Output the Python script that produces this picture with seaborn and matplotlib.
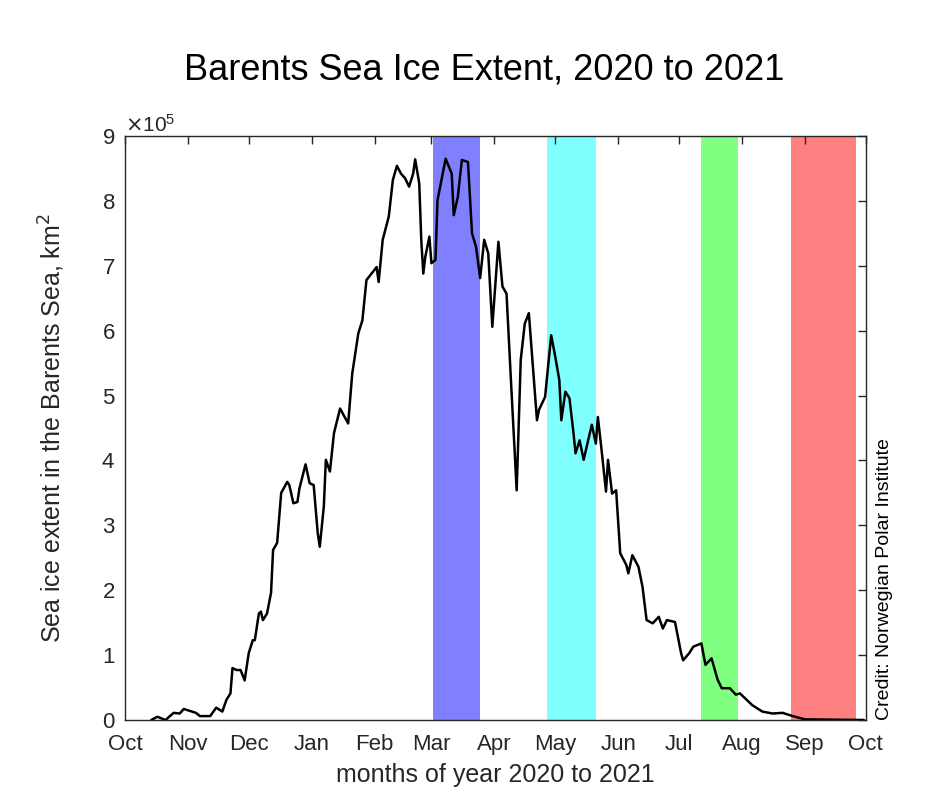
import numpy as np
import pandas as pd
import seaborn as sns
import matplotlib.pyplot as plt
import matplotlib.dates as mdates
from matplotlib.ticker import ScalarFormatter, MultipleLocator

# daily sea ice extent (units of 1e5 km^2)
dates = [
    "2020-10-14", "2020-10-17", "2020-10-21", "2020-10-25", "2020-10-28", "2020-10-30",
    "2020-11-05", "2020-11-07", "2020-11-12", "2020-11-15", "2020-11-18", "2020-11-20",
    "2020-11-22", "2020-11-23", "2020-11-25", "2020-11-27", "2020-11-29",
    "2020-12-01", "2020-12-03", "2020-12-04", "2020-12-06", "2020-12-07", "2020-12-08",
    "2020-12-10", "2020-12-12", "2020-12-13", "2020-12-15", "2020-12-17", "2020-12-20",
    "2020-12-21", "2020-12-23", "2020-12-25", "2020-12-26", "2020-12-29", "2020-12-31",
    "2021-01-02", "2021-01-04", "2021-01-05", "2021-01-07", "2021-01-08", "2021-01-10",
    "2021-01-12", "2021-01-15", "2021-01-19", "2021-01-21", "2021-01-24", "2021-01-26",
    "2021-01-28", "2021-01-30",
    "2021-02-02", "2021-02-03", "2021-02-05", "2021-02-08", "2021-02-10", "2021-02-12",
    "2021-02-14", "2021-02-16", "2021-02-18", "2021-02-20", "2021-02-21", "2021-02-23",
    "2021-02-24", "2021-02-25", "2021-02-26", "2021-02-28",
    "2021-03-01", "2021-03-03", "2021-03-04", "2021-03-08", "2021-03-11", "2021-03-12",
    "2021-03-14", "2021-03-16", "2021-03-19", "2021-03-21", "2021-03-23", "2021-03-25",
    "2021-03-27", "2021-03-29", "2021-03-31",
    "2021-04-03", "2021-04-05", "2021-04-07", "2021-04-09", "2021-04-12", "2021-04-14",
    "2021-04-16", "2021-04-18", "2021-04-21", "2021-04-22", "2021-04-23", "2021-04-26",
    "2021-04-29",
    "2021-05-01", "2021-05-03", "2021-05-04", "2021-05-06", "2021-05-08", "2021-05-10",
    "2021-05-11", "2021-05-13", "2021-05-15", "2021-05-19", "2021-05-21", "2021-05-22",
    "2021-05-24", "2021-05-26", "2021-05-27", "2021-05-29", "2021-05-31",
    "2021-06-02", "2021-06-05", "2021-06-06", "2021-06-08", "2021-06-11", "2021-06-13",
    "2021-06-15", "2021-06-18", "2021-06-21", "2021-06-23", "2021-06-25", "2021-06-29",
    "2021-07-02", "2021-07-03", "2021-07-06", "2021-07-08", "2021-07-12", "2021-07-14",
    "2021-07-17", "2021-07-20", "2021-07-22", "2021-07-26", "2021-07-29", "2021-07-31",
    "2021-08-06", "2021-08-11", "2021-08-16", "2021-08-21", "2021-08-26",
    "2021-09-01", "2021-09-30",
]
extent = [
    0.00, 0.05, 0.00, 0.11, 0.10, 0.17,
    0.11, 0.06, 0.06, 0.19, 0.13, 0.31,
    0.41, 0.80, 0.77, 0.77, 0.61,
    1.03, 1.23, 1.23, 1.64, 1.67, 1.54,
    1.64, 1.96, 2.62, 2.73, 3.50, 3.67,
    3.62, 3.34, 3.36, 3.57, 3.94, 3.65,
    3.62, 2.88, 2.67, 3.29, 4.01, 3.83,
    4.42, 4.80, 4.57, 5.34, 5.96, 6.16,
    6.78, 6.86,
    6.98, 6.75, 7.40, 7.76, 8.32, 8.54,
    8.42, 8.35, 8.22, 8.42, 8.64, 8.27,
    7.40, 6.88, 7.14, 7.45,
    7.04, 7.09, 8.01, 8.65, 8.42, 7.78,
    8.06, 8.63, 8.60, 7.50, 7.29, 6.81,
    7.40, 7.19, 6.06,
    7.37, 6.68, 6.57, 5.34, 3.54, 5.55,
    6.11, 6.27, 5.03, 4.62, 4.78, 4.98,
    5.93,
    5.60, 5.24, 4.62, 5.06, 4.96, 4.42,
    4.11, 4.31, 4.01, 4.55, 4.26, 4.67,
    4.11, 3.52, 4.01, 3.49, 3.54,
    2.57, 2.39, 2.26, 2.54, 2.36, 2.05,
    1.54, 1.49, 1.59, 1.41, 1.54, 1.51,
    1.03, 0.92, 1.03, 1.13, 1.18, 0.85,
    0.95, 0.62, 0.49, 0.49, 0.39, 0.41,
    0.23, 0.13, 0.10, 0.11, 0.06,
    0.01, 0.00,
]

# highlighted periods
band_start = ["2021-03-02", "2021-04-27", "2021-07-12", "2021-08-25"]
band_end = ["2021-03-25", "2021-05-21", "2021-07-30", "2021-09-26"]
band_colors = ["#8080ff", "#80ffff", "#80ff80", "#ff8080"]

df = pd.DataFrame({"date": pd.to_datetime(dates), "extent": np.array(extent) * 1e5})

sns.set_style("white")
plt.rcParams["font.family"] = ["Liberation Sans", "DejaVu Sans"]

fig = plt.figure(figsize=(9.32, 8.0), dpi=100)
ax = fig.add_axes([0.134, 0.10, 0.795, 0.73])

for s, e, c in zip(band_start, band_end, band_colors):
    ax.axvspan(pd.Timestamp(s), pd.Timestamp(e), color=c, lw=0, zorder=0)

sns.lineplot(data=df, x="date", y="extent", color="black", lw=1.8, ax=ax, zorder=3)

ax.set_xlim(pd.Timestamp("2020-10-01"), pd.Timestamp("2021-10-01"))
ax.set_ylim(0, 9e5)
ax.xaxis.set_major_locator(mdates.MonthLocator())
ax.xaxis.set_major_formatter(mdates.DateFormatter("%b"))
ax.yaxis.set_major_locator(MultipleLocator(1e5))
fmt = ScalarFormatter(useMathText=True)
fmt.set_powerlimits((0, 0))
ax.yaxis.set_major_formatter(fmt)
ax.yaxis.get_offset_text().set_fontsize(15)
ax.yaxis.get_offset_text().set_color("#404040")

ax.tick_params(direction="in", top=True, right=True, length=6, width=1,
               labelsize=16, colors="#262626", pad=7)
ax.tick_params(axis="x", pad=10)
for sp in ax.spines.values():
    sp.set_color("#262626")
    sp.set_linewidth(1)

ax.set_xlabel("months of year 2020 to 2021", fontsize=18, color="#262626", labelpad=6)
ax.set_ylabel("Sea ice extent in the Barents Sea, km$^2$", fontsize=18,
              color="#262626", labelpad=25)

fig.text(0.52, 0.912, "Barents Sea Ice Extent, 2020 to 2021", ha="center",
         va="center", fontsize=26, color="black")
fig.text(0.949, 0.10, "Credit: Norwegian Polar Institute", rotation=90,
         ha="center", va="bottom", fontsize=14, color="black")

fig.savefig("out.png", dpi=100)
